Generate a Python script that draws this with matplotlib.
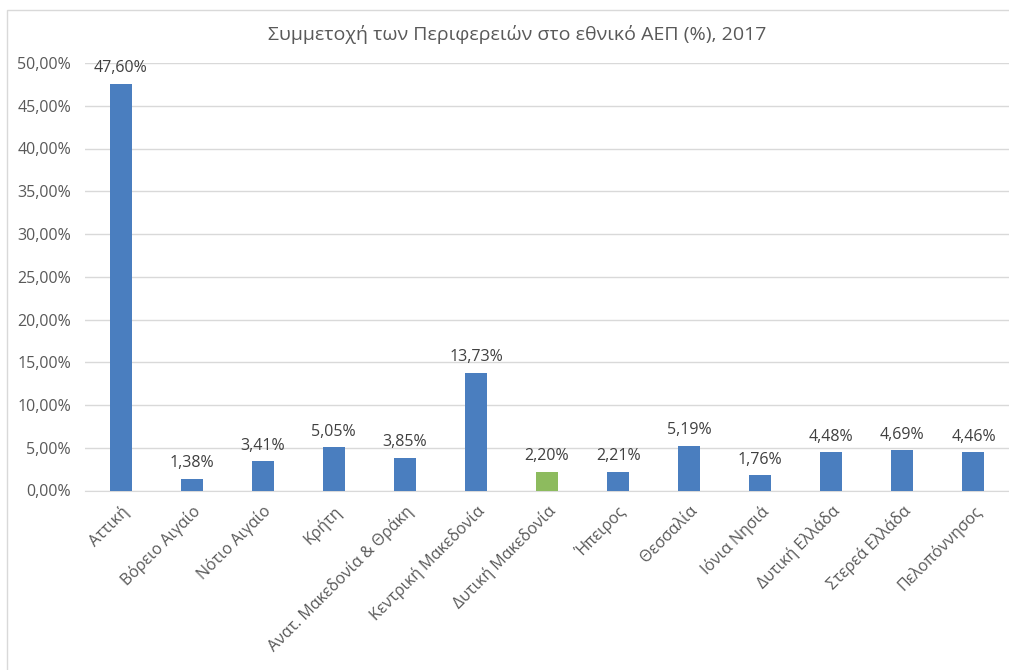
import matplotlib
matplotlib.use("Agg")
import matplotlib.pyplot as plt
from matplotlib.patches import Rectangle
from matplotlib.ticker import FuncFormatter

regions = ["Αττική", "Βόρειο Αιγαίο", "Νότιο Αιγαίο", "Κρήτη",
           "Ανατ. Μακεδονία & Θράκη", "Κεντρική Μακεδονία", "Δυτική Μακεδονία",
           "Ήπειρος", "Θεσσαλία", "Ιόνια Νησιά", "Δυτική Ελλάδα",
           "Στερεά Ελλάδα", "Πελοπόννησος"]
shares = [47.60, 1.38, 3.41, 5.05, 3.85, 13.73, 2.20, 2.21, 5.19, 1.76, 4.48, 4.69, 4.46]
highlight = "Δυτική Μακεδονία"
yticks = [0, 5, 10, 15, 20, 25, 30, 35, 40, 45, 50]
title = "Συμμετοχή των Περιφερειών στο εθνικό ΑΕΠ (%), 2017"

BLUE = "#4a7ebf"
GREEN = "#8dbb5e"
TXT = "#595959"

plt.rcParams['font.family'] = ['Open Sans', 'DejaVu Sans']

W, H = 1009, 670
fig = plt.figure(figsize=(W / 100, H / 100), dpi=100)
fig.patches.append(Rectangle((7 / W, -0.01), 1.1, 1 - 10 / H + 0.01,
                             transform=fig.transFigure, fill=False,
                             edgecolor="#d9d9d9", linewidth=1.0))

ax = fig.add_axes([85 / W, 1 - 490.5 / H, (1009 - 85) / W, (490.5 - 63) / H])
x = list(range(len(regions)))
colors = [GREEN if r == highlight else BLUE for r in regions]
bars = ax.bar(x, shares, width=0.31, color=colors, zorder=3)

for xi, v in zip(x, shares):
    ax.text(xi, v + 0.9, f"{v:.2f}%".replace(".", ","), ha="center", va="bottom",
            fontsize=11.5, color="#404040")

ax.set_xlim(-0.5, len(regions) - 0.5)
ax.set_ylim(0, 50)
ax.set_yticks(yticks)
ax.yaxis.set_major_formatter(FuncFormatter(lambda v, p: f"{v:.2f}%".replace(".", ",")))
ax.grid(axis="y", color="#d9d9d9", linewidth=1.0, zorder=0)
ax.set_axisbelow(True)
for s in ["top", "right", "left"]:
    ax.spines[s].set_visible(False)
ax.spines["bottom"].set_color("#d9d9d9")
ax.tick_params(axis="both", length=0, labelsize=11.5, labelcolor=TXT)
ax.tick_params(axis="y", pad=10)
ax.set_xticks(x)
ax.set_xticklabels(regions, rotation=45, ha="right", rotation_mode="anchor")
ax.tick_params(axis="x", pad=9)

fig.text(517 / W, 1 - 35 / H, title, ha="center", va="center", fontsize=14, color=TXT)

fig.savefig("out.png", dpi=100)
